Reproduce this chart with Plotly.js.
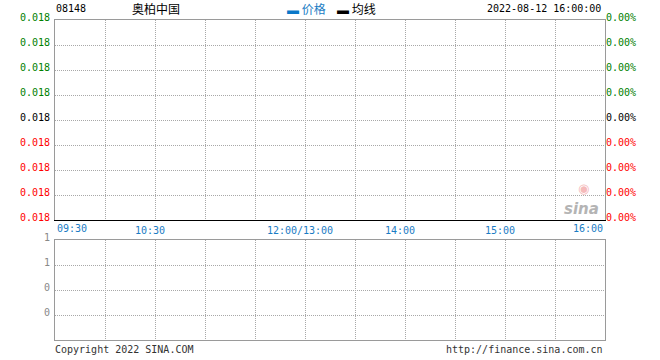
<!DOCTYPE html>
<html>
<head>
<meta charset="utf-8">
<script src="https://cdn.plot.ly/plotly-3.0.1.min.js"></script>
<style>
html,body{margin:0;padding:0;background:#fff;}
#chart{width:660px;height:360px;}
</style>
</head>
<body>
<div id="chart"></div>
<script>
// ---- data ----
const stockCode = "08148";
const stockName = "奥柏中国";
const timestamp = "2022-08-12 16:00:00";
// minutes since 09:30 on the trading clock (lunch break removed)
const priceTimes = [];
const priceValues = [];
const avgValues = [];
const volumeValues = [];
const timeTickVals = [0, 30, 60, 90, 120, 150, 180, 210, 240, 270, 300, 330];
const timeTickText = ["", "", "10:30", "", "", "12:00/13:00", "", "14:00", "", "15:00", "", ""];
const firstTimeLabel = "09:30";
const lastTimeLabel = "16:00";
const priceTickVals = [0, 1, 2, 3, 4, 5, 6, 7, 8];
const priceTickText = ["0.018", "0.018", "0.018", "0.018", "0.018", "0.018", "0.018", "0.018", "0.018"];
const pctTickText = ["0.00%", "0.00%", "0.00%", "0.00%", "0.00%", "0.00%", "0.00%", "0.00%", "0.00%"];
const volTickVals = [1, 2, 3, 4];
const volTickText = ["0", "0", "1", "1"];

const GREEN = "#008000", RED = "#ff0000", BLACK = "#000000";
function colorFor(i) { return i > 4 ? GREEN : (i < 4 ? RED : BLACK); }
function colored(arr) { return arr.map((t, i) => `<span style="color:${colorFor(priceTickVals[i])}">${t}</span>`); }

const MONO = "DejaVu Sans Mono";
const CJK = "Noto Sans CJK SC";
const BLUE = "#1a7cc4";
const GRID = "#a8a8a8";
const DOT = "1px,1px";
const BORDER = "#9a9a9a";

const traces = [
  {x: priceTimes, y: priceValues, type: "scatter", mode: "lines", xaxis: "x", yaxis: "y", line: {color: BLUE, width: 1}, showlegend: false, hoverinfo: "skip"},
  {x: priceTimes, y: avgValues, type: "scatter", mode: "lines", xaxis: "x", yaxis: "y", line: {color: "#000", width: 1}, showlegend: false, hoverinfo: "skip"},
  {x: priceTimes, y: volumeValues, type: "bar", xaxis: "x2", yaxis: "y2", marker: {color: BLUE}, showlegend: false, hoverinfo: "skip"},
  {x: [], y: [], type: "scatter", xaxis: "x3", yaxis: "y3", showlegend: false, hoverinfo: "skip"}
];

const layout = {
  width: 660, height: 360,
  margin: {l: 55, r: 55, t: 20, b: 20, pad: 0},
  paper_bgcolor: "#fff", plot_bgcolor: "#fff",
  showlegend: false,
  font: {family: MONO, size: 10, color: "#000"},
  xaxis: {
    domain: [0, 1], anchor: "y", range: [0, 330], fixedrange: true,
    tickvals: timeTickVals, ticktext: timeTickText,
    showgrid: true, gridcolor: GRID, griddash: DOT, gridwidth: 1,
    zeroline: false, showline: true, linecolor: "#000", linewidth: 1, mirror: false,
    ticks: "", ticklabelstandoff: 1, ticklabelshift: -5,
    tickfont: {family: MONO, size: 10, color: BLUE}
  },
  xaxis3: {
    overlaying: "x", anchor: "y", side: "top", range: [0, 330],
    showgrid: false, showticklabels: false, ticks: "", zeroline: false,
    showline: true, linecolor: BORDER, linewidth: 1
  },
  yaxis: {
    domain: [0.375, 1], anchor: "x", range: [0, 8], fixedrange: true,
    tickvals: priceTickVals, ticktext: colored(priceTickText),
    showgrid: true, gridcolor: GRID, griddash: DOT, gridwidth: 1,
    zeroline: false, showline: true, linecolor: BORDER, linewidth: 1,
    ticks: "", ticklabelstandoff: 2, ticklabelshift: -3,
    tickfont: {family: MONO, size: 10}
  },
  yaxis3: {
    overlaying: "y", side: "right", anchor: "x", range: [0, 8],
    tickvals: priceTickVals, ticktext: colored(pctTickText),
    showgrid: false, zeroline: false, showline: true, linecolor: BORDER, linewidth: 1,
    ticks: "", ticklabelstandoff: -2, ticklabelshift: -3,
    tickfont: {family: MONO, size: 10}
  },
  xaxis2: {
    domain: [0, 1], anchor: "y2", range: [0, 330], matches: "x", fixedrange: true,
    tickvals: timeTickVals, showticklabels: false,
    showgrid: true, gridcolor: GRID, griddash: DOT, gridwidth: 1,
    zeroline: false, showline: true, linecolor: BORDER, linewidth: 1, mirror: true, ticks: ""
  },
  yaxis2: {
    domain: [0, 0.3125], anchor: "x2", range: [0, 4], fixedrange: true,
    tickvals: volTickVals, ticktext: volTickText,
    showgrid: true, gridcolor: GRID, griddash: DOT, gridwidth: 1,
    zeroline: false, showline: true, linecolor: BORDER, linewidth: 1, mirror: true,
    ticks: "", ticklabelstandoff: 2, ticklabelshift: -3,
    tickfont: {family: MONO, size: 10, color: "#888"}
  },
  annotations: [
    {xref: "x", yref: "paper", x: 0, y: 0.375, xanchor: "left", yanchor: "top", yshift: -1,
     text: firstTimeLabel, showarrow: false, font: {family: MONO, size: 10, color: BLUE}},
    {xref: "x", yref: "paper", x: 330, y: 0.375, xanchor: "right", yanchor: "top", yshift: -1,
     text: lastTimeLabel, showarrow: false, font: {family: MONO, size: 10, color: BLUE}},
    {xref: "paper", yref: "paper", x: 0, y: 1, xanchor: "left", yanchor: "bottom", yshift: 4, xshift: -1,
     text: stockCode, showarrow: false, font: {family: MONO, size: 10, color: "#000"}},
    {xref: "paper", yref: "paper", x: 0.136, y: 1, xanchor: "left", yanchor: "bottom", yshift: 1,
     text: stockName, showarrow: false, font: {family: CJK, size: 12, color: "#000"}},
    {xref: "paper", yref: "paper", x: 0.418, y: 1, xanchor: "left", yanchor: "bottom", yshift: 1,
     text: '<span style="color:#0a78c8">▬</span> <span style="color:#1a7cc4">价格</span>', showarrow: false, font: {family: CJK, size: 12, color: BLUE}},
    {xref: "paper", yref: "paper", x: 0.509, y: 1, xanchor: "left", yanchor: "bottom", yshift: 1,
     text: '▬ 均线', showarrow: false, font: {family: CJK, size: 12, color: "#000"}},
    {xref: "paper", yref: "paper", x: 1, y: 1, xanchor: "right", yanchor: "bottom", yshift: 4, xshift: -2,
     text: timestamp, showarrow: false, font: {family: MONO, size: 10, color: "#000"}},
    {xref: "paper", yref: "paper", x: 0, y: 0, xanchor: "left", yanchor: "top", yshift: -2, xshift: -2,
     text: "Copyright 2022 SINA.COM", showarrow: false, font: {family: MONO, size: 10, color: "#333"}},
    {xref: "paper", yref: "paper", x: 1, y: 0, xanchor: "right", yanchor: "top", yshift: -2, xshift: 0,
     text: "http://finance.sina.com.cn", showarrow: false, font: {family: MONO, size: 10, color: "#333"}},
    {xref: "paper", yref: "paper", x: 0.958, y: 0.41, xanchor: "center", yanchor: "middle",
     text: "<b><i>sina</i></b>", showarrow: false, font: {family: "DejaVu Sans", size: 15, color: "#b4b4b4"}},
    {xref: "paper", yref: "paper", x: 0.96, y: 0.472, xanchor: "center", yanchor: "middle",
     text: "◉", showarrow: false, font: {family: "DejaVu Sans", size: 13, color: "#f5baba"}}
  ]
};

Plotly.newPlot("chart", traces, layout, {staticPlot: true, displayModeBar: false});
</script>
</body>
</html>
